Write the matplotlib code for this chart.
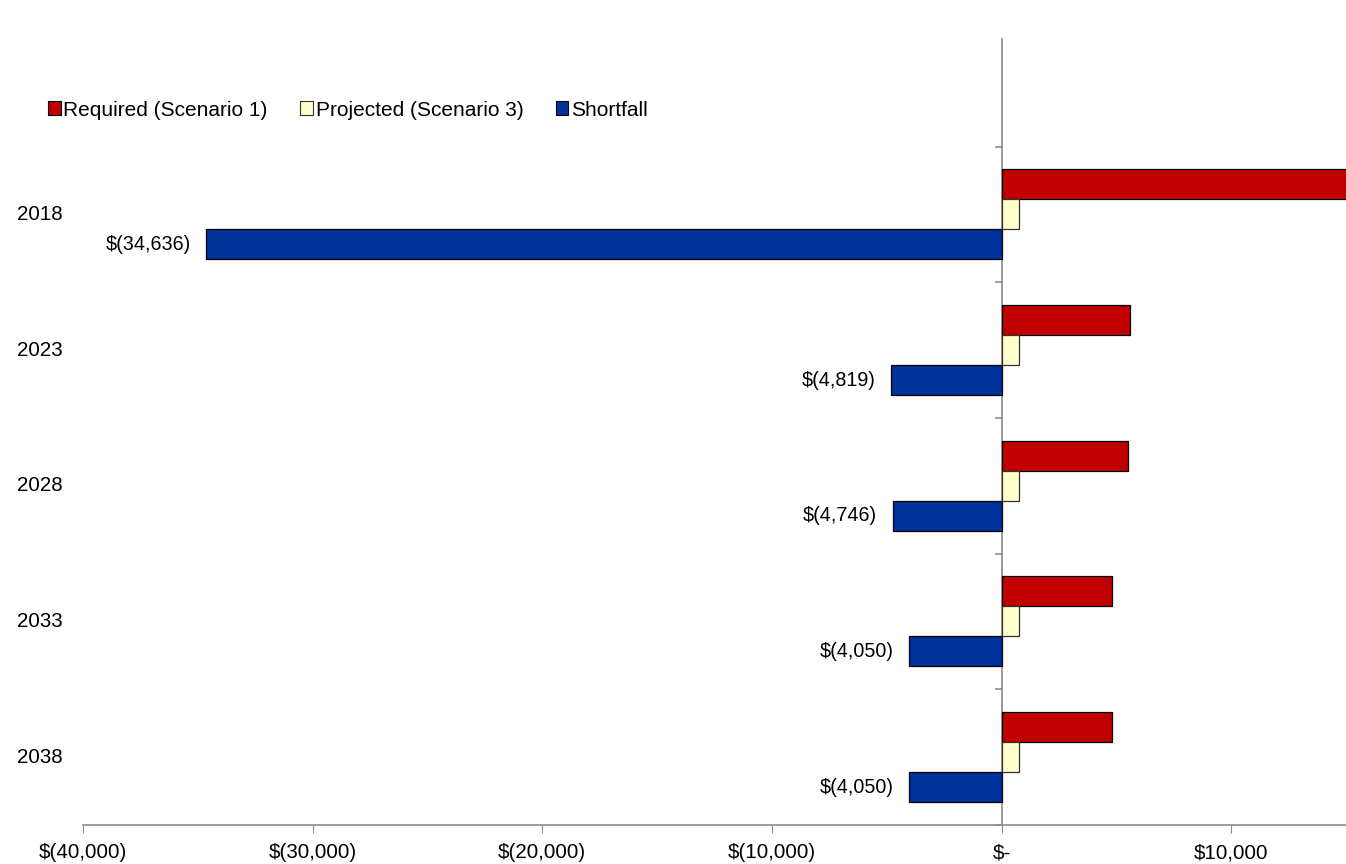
from matplotlib import pyplot as plt
from matplotlib.patches import Patch
from matplotlib.ticker import FuncFormatter
from matplotlib.transforms import blended_transform_factory
import numpy as np

plt.rcParams['font.family'] = ['Liberation Sans', 'DejaVu Sans']

years = ["2018", "2023", "2028", "2033", "2038"]
required = [35396, 5579, 5506, 4810, 4810]
projected = [760, 760, 760, 760, 760]
shortfall = [-34636, -4819, -4746, -4050, -4050]

red = "#C00000"
cream = "#FFFFCC"
blue = "#003399"
axis_grey = "#8C8C8C"


def money(v, pos=None):
    if v == 0:
        return "$-"
    if v < 0:
        return "$({:,.0f})".format(-v)
    return "${:,.0f}".format(v)


def Funding_gap_chart():
    fig = plt.figure(figsize=(13.46, 8.64), dpi=100)
    ax = fig.add_axes([83 / 1346, 39 / 864, 1 - 83 / 1346, 787 / 864])

    # first year at the top
    y = np.arange(len(years))[::-1].astype(float)
    h = 0.221

    ax.barh(y + h, required, height=h, color=red, edgecolor="black", linewidth=0.9)
    ax.barh(y, projected, height=h, color=cream, edgecolor="#333333", linewidth=0.9)
    bars = ax.barh(y - h, shortfall, height=h, color=blue, edgecolor="black", linewidth=0.9)

    for b, v in zip(bars, shortfall):
        ax.annotate(money(v), (v, b.get_y() + b.get_height() / 2),
                    xytext=(-11, 0), textcoords="offset points",
                    ha="right", va="center", fontsize=14.2)

    ax.set_xlim(-40000, 15000)
    ax.set_ylim(-0.5, 5.3)

    for s in ["top", "right", "left"]:
        ax.spines[s].set_visible(False)
    ax.spines["bottom"].set_color(axis_grey)
    ax.spines["bottom"].set_linewidth(1.2)

    ax.set_xticks(np.arange(-40000, 15000, 10000))
    ax.xaxis.set_major_formatter(FuncFormatter(money))
    ax.tick_params(axis="x", direction="out", length=6, color=axis_grey,
                   labelsize=14.8, pad=7)

    # vertical value axis at zero with category dividers
    ax.axvline(0, color=axis_grey, linewidth=1.2, zorder=0.5)
    ax.set_yticks([])
    for b in np.arange(-0.5, len(years), 1.0):
        ax.plot([-220, 0], [b, b], color=axis_grey, linewidth=1.2, clip_on=False)

    trans = blended_transform_factory(fig.transFigure, ax.transData)
    for yy, label in zip(y, years):
        ax.text(40 / 1346, yy, label, transform=trans, ha="center", va="center",
                fontsize=14.8)

    handles = [Patch(facecolor=red, edgecolor="black", linewidth=0.8),
               Patch(facecolor=cream, edgecolor="#333333", linewidth=0.8),
               Patch(facecolor=blue, edgecolor="black", linewidth=0.8)]
    fig.legend(handles, ["Required (Scenario 1)", "Projected (Scenario 3)", "Shortfall"],
               loc="center left", bbox_to_anchor=(48 / 1346, 1 - 110 / 864),
               ncol=3, frameon=False, fontsize=15, handlelength=0.62,
               handleheight=0.62, handletextpad=0.12, columnspacing=1.55,
               borderaxespad=0, borderpad=0)

    fig.savefig("out.png", dpi=100)


if __name__ == '__main__':
    Funding_gap_chart()
